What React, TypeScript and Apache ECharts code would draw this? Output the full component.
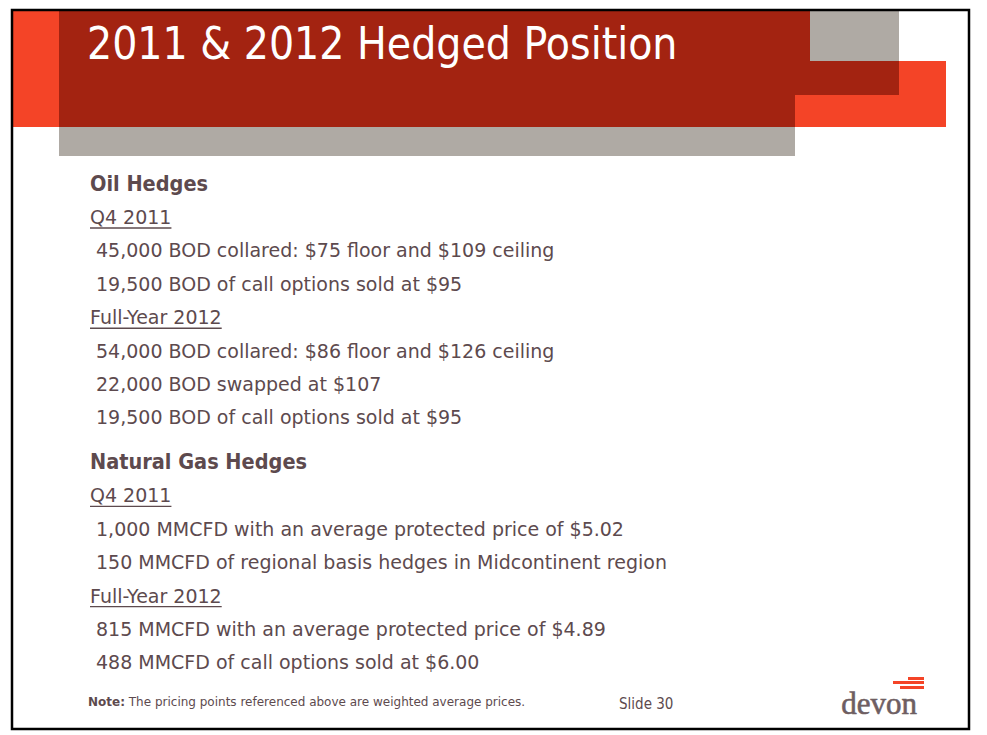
import React, { useRef, useEffect } from 'react'
import * as echarts from 'echarts'

// slide texts
const titleText = '2011 & 2012 Hedged Position'
const headings = ['Oil Hedges', 'Natural Gas Hedges']
const periods = ['Q4 2011', 'Full-Year 2012']
const oilQ4 = ['45,000 BOD collared: $75 floor and $109 ceiling', '19,500 BOD of call options sold at $95']
const oilFY = [
  '54,000 BOD collared: $86 floor and $126 ceiling',
  '22,000 BOD swapped at $107',
  '19,500 BOD of call options sold at $95',
]
const gasQ4 = ['1,000 MMCFD with an average protected price of $5.02', '150 MMCFD of regional basis hedges in Midcontinent region']
const gasFY = ['815 MMCFD with an average protected price of $4.89', '488 MMCFD of call options sold at $6.00']
const noteLabel = 'Note:'
const noteText = 'The pricing points referenced above are weighted average prices.'
const slideLabel = 'Slide 30'
const logoText = 'devon'

const NARROW = '"DejaVu Sans Condensed", "DejaVu Sans", sans-serif'
const FONT = '"DejaVu Sans", sans-serif'
const TEXT = '#5d4a4e'
const DARK_RED = '#a32311'
const ORANGE = '#f44427'
const GREY = '#afaaa4'

function measure(text: string, font: string) {
  const ctx = document.createElement('canvas').getContext('2d')
  if (!ctx) return text.length * 9
  ctx.font = font
  return ctx.measureText(text).width
}

function App() {
  const chartRef = useRef(null)

  useEffect(() => {
    const chart = echarts.init(chartRef.current, null, { renderer: 'svg' })

    const els: any[] = []
    const txt = (x: number, y: number, text: string, size: number, extra: any = {}) => {
      els.push({
        type: 'text',
        x,
        y,
        z: 10,
        style: {
          text,
          fill: TEXT,
          fontSize: size,
          fontFamily: FONT,
          align: 'left',
          verticalAlign: 'middle',
          textAlign: 'left',
          textVerticalAlign: 'middle',
          ...extra,
        },
      })
    }
    const underlined = (x: number, y: number, text: string, size: number) => {
      txt(x, y, text, size)
      const w = measure(text, `${size}px ${FONT}`)
      els.push({
        type: 'line',
        z: 10,
        shape: { x1: x, y1: y + 11, x2: x + w, y2: y + 11 },
        style: { stroke: TEXT, lineWidth: 1.4 },
      })
    }

    // header blocks
    els.push({ type: 'rect', shape: { x: 13, y: 10, width: 46, height: 117 }, style: { fill: ORANGE } })
    els.push({ type: 'rect', shape: { x: 59, y: 10, width: 736, height: 117 }, style: { fill: DARK_RED } })
    els.push({ type: 'rect', shape: { x: 795, y: 10, width: 104, height: 85 }, style: { fill: DARK_RED } })
    els.push({ type: 'rect', shape: { x: 810, y: 10, width: 89, height: 51 }, style: { fill: GREY } })
    els.push({ type: 'rect', shape: { x: 899, y: 61, width: 47, height: 66 }, style: { fill: ORANGE } })
    els.push({ type: 'rect', shape: { x: 795, y: 95, width: 151, height: 32 }, style: { fill: ORANGE } })
    els.push({ type: 'rect', shape: { x: 59, y: 127, width: 736, height: 29 }, style: { fill: GREY } })

    txt(87, 43, titleText, 44, { fill: '#ffffff', fontFamily: NARROW })

    // body
    const step = 33.4
    let y = 183
    const block = (heading: string, q4: string[], fy: string[], size: number) => {
      txt(90, y, heading, 21.5, { fontWeight: 'bold', fontFamily: NARROW })
      y += 34
      underlined(90, y, periods[0], size)
      y += step
      q4.forEach((l) => {
        txt(96, y, l, size)
        y += step
      })
      underlined(90, y, periods[1], size)
      y += step
      fy.forEach((l) => {
        txt(96, y, l, size)
        y += step
      })
    }
    block(headings[0], oilQ4, oilFY, 19)
    y += 10.6
    block(headings[1], gasQ4, gasFY, 19)

    // footer
    els.push({
      type: 'text',
      x: 88,
      y: 702,
      z: 10,
      style: {
        text: `{b|${noteLabel}} {n|${noteText}}`,
        fill: TEXT,
        fontSize: 12,
        fontFamily: FONT,
        verticalAlign: 'middle',
        textVerticalAlign: 'middle',
        rich: {
          b: { fontWeight: 'bold', fontSize: 12, fontFamily: FONT, fill: TEXT },
          n: { fontSize: 12, fontFamily: FONT, fill: TEXT },
        },
      },
    })
    txt(619, 704, slideLabel, 15, { fontFamily: NARROW })

    // logo
    els.push({ type: 'rect', shape: { x: 908, y: 677, width: 16, height: 3 }, style: { fill: ORANGE } })
    els.push({ type: 'rect', shape: { x: 893, y: 681, width: 31, height: 3 }, style: { fill: ORANGE } })
    els.push({ type: 'rect', shape: { x: 900, y: 686, width: 24, height: 3 }, style: { fill: ORANGE } })
    els.push({
      type: 'text',
      x: 879,
      y: 703,
      z: 10,
      style: {
        text: logoText,
        fill: '#6e5e62',
        fontSize: 31,
        fontFamily: '"Liberation Serif", "DejaVu Serif", serif',
        align: 'center',
        verticalAlign: 'middle',
        textAlign: 'center',
        textVerticalAlign: 'middle',
        stroke: '#6e5e62',
        lineWidth: 0.6,
      },
    })

    // slide frame
    els.push({
      type: 'rect',
      z: 20,
      shape: { x: 12, y: 10, width: 957, height: 719 },
      style: { fill: 'none', stroke: '#000000', lineWidth: 2.5 },
    })

    chart.setOption({
      animation: false,
      backgroundColor: '#ffffff',
      graphic: { elements: els },
    })

    return () => {
      chart.dispose()
    }
  }, [])

  return <div ref={chartRef} style={{ position: 'absolute', left: 0, top: 0, width: 987, height: 735 }}></div>
}

export default App
